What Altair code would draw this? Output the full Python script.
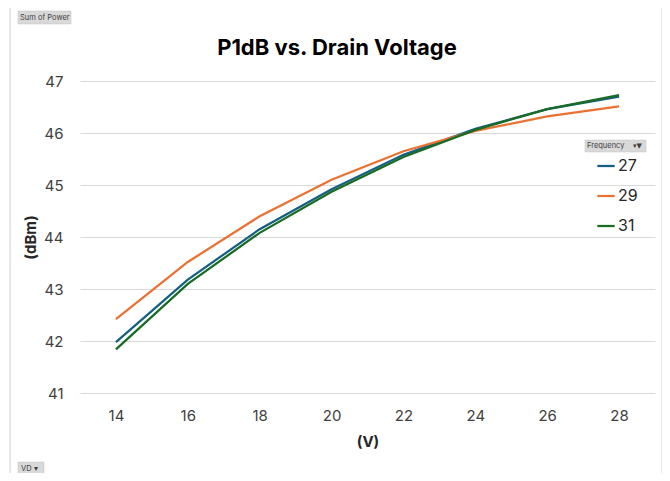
import altair as alt
import pandas as pd

volts = [14, 16, 18, 20, 22, 24, 26, 28]
freqs = ["27", "29", "31"]
p27 = [41.98, 43.18, 44.15, 44.92, 45.58, 46.08, 46.46, 46.70]
p29 = [42.42, 43.52, 44.40, 45.10, 45.65, 46.04, 46.32, 46.51]
p31 = [41.84, 43.10, 44.08, 44.87, 45.54, 46.06, 46.46, 46.73]
colors = ["#156082", "#E97132", "#196B24"]
title_text = "P1dB vs. Drain Voltage"

rows = []
for f, vals in zip(freqs, [p27, p29, p31]):
    for v, p in zip(volts, vals):
        rows.append({"VD": v, "Frequency": f, "Power": p})
df = pd.DataFrame(rows)

FONT = "Inter"
W, H = 575, 312

lines = alt.Chart(df).mark_line(strokeWidth=2.25).encode(
    x=alt.X("VD:Q", scale=alt.Scale(domain=[13, 29], nice=False),
            axis=alt.Axis(values=volts, title="(V)", grid=False, domain=False, ticks=False,
                          labelPadding=15, titlePadding=11)),
    y=alt.Y("Power:Q", scale=alt.Scale(domain=[41, 47], nice=False, zero=False),
            axis=alt.Axis(values=[41, 42, 43, 44, 45, 46, 47], title="(dBm)", domain=False,
                          ticks=False, labelPadding=17, titlePadding=5,
                          gridColor="#d9d9d9", gridWidth=1)),
    color=alt.Color("Frequency:N", scale=alt.Scale(domain=freqs, range=colors),
                    legend=alt.Legend(orient="none", legendX=516, legendY=75, title=None,
                                      symbolType="stroke", symbolSize=300,
                                      symbolStrokeWidth=2.25, labelFontSize=16,
                                      labelColor="#262626", labelFont=FONT,
                                      rowPadding=12, labelOffset=2)),
)

one = pd.DataFrame({"a": [0]})

def button(x, y, x2, y2, label, tx, fs=7.5):
    r = alt.Chart(one).mark_rect(color="#d9d9d9", stroke="#c0c0c0", strokeWidth=0.5).encode(
        x=alt.value(x), x2=alt.value(x2), y=alt.value(y), y2=alt.value(y2))
    t = alt.Chart(one).mark_text(text=label, align="left", baseline="middle", fontSize=fs,
                                 font=FONT, color="#404040").encode(
        x=alt.value(tx), y=alt.value((y + y2) / 2))
    return r + t

border = alt.Chart(one).mark_rect(fill=None, stroke="#d0d0d0", strokeWidth=1).encode(
    x=alt.value(-70), x2=alt.value(582), y=alt.value(-76), y2=alt.value(398))

title = alt.Chart(one).mark_text(text=title_text, align="center", baseline="middle",
                                 fontSize=22, font=FONT, fontWeight="bold",
                                 color="#000000").encode(
    x=alt.value(257), y=alt.value(-33))

b1 = button(-62, -70, -9, -57, "Sum of Power", -60)
b2 = button(505, 59, 566, 71, "Frequency", 507)
b2i = alt.Chart(one).mark_text(text="▾▼", align="left", baseline="middle", fontSize=7,
                               font="DejaVu Sans", color="#404040").encode(
    x=alt.value(553), y=alt.value(65))
b3 = button(-62, 381, -36, 394, "VD  ▾", -59)

chart = alt.layer(border, lines, title, b1, b2, b2i, b3).properties(
    width=W, height=H,
    autosize=alt.AutoSizeParams(type="none"),
    padding={"left": 72, "top": 73, "right": 7, "bottom": 80},
    background="white",
).configure_view(stroke=None).configure_axis(
    labelFont=FONT, labelFontSize=15, labelColor="#404040",
    titleFont=FONT, titleFontSize=15, titleFontWeight="bold", titleColor="#262626",
)

chart.save("out.html", embed_options={"renderer": "svg", "actions": False})
